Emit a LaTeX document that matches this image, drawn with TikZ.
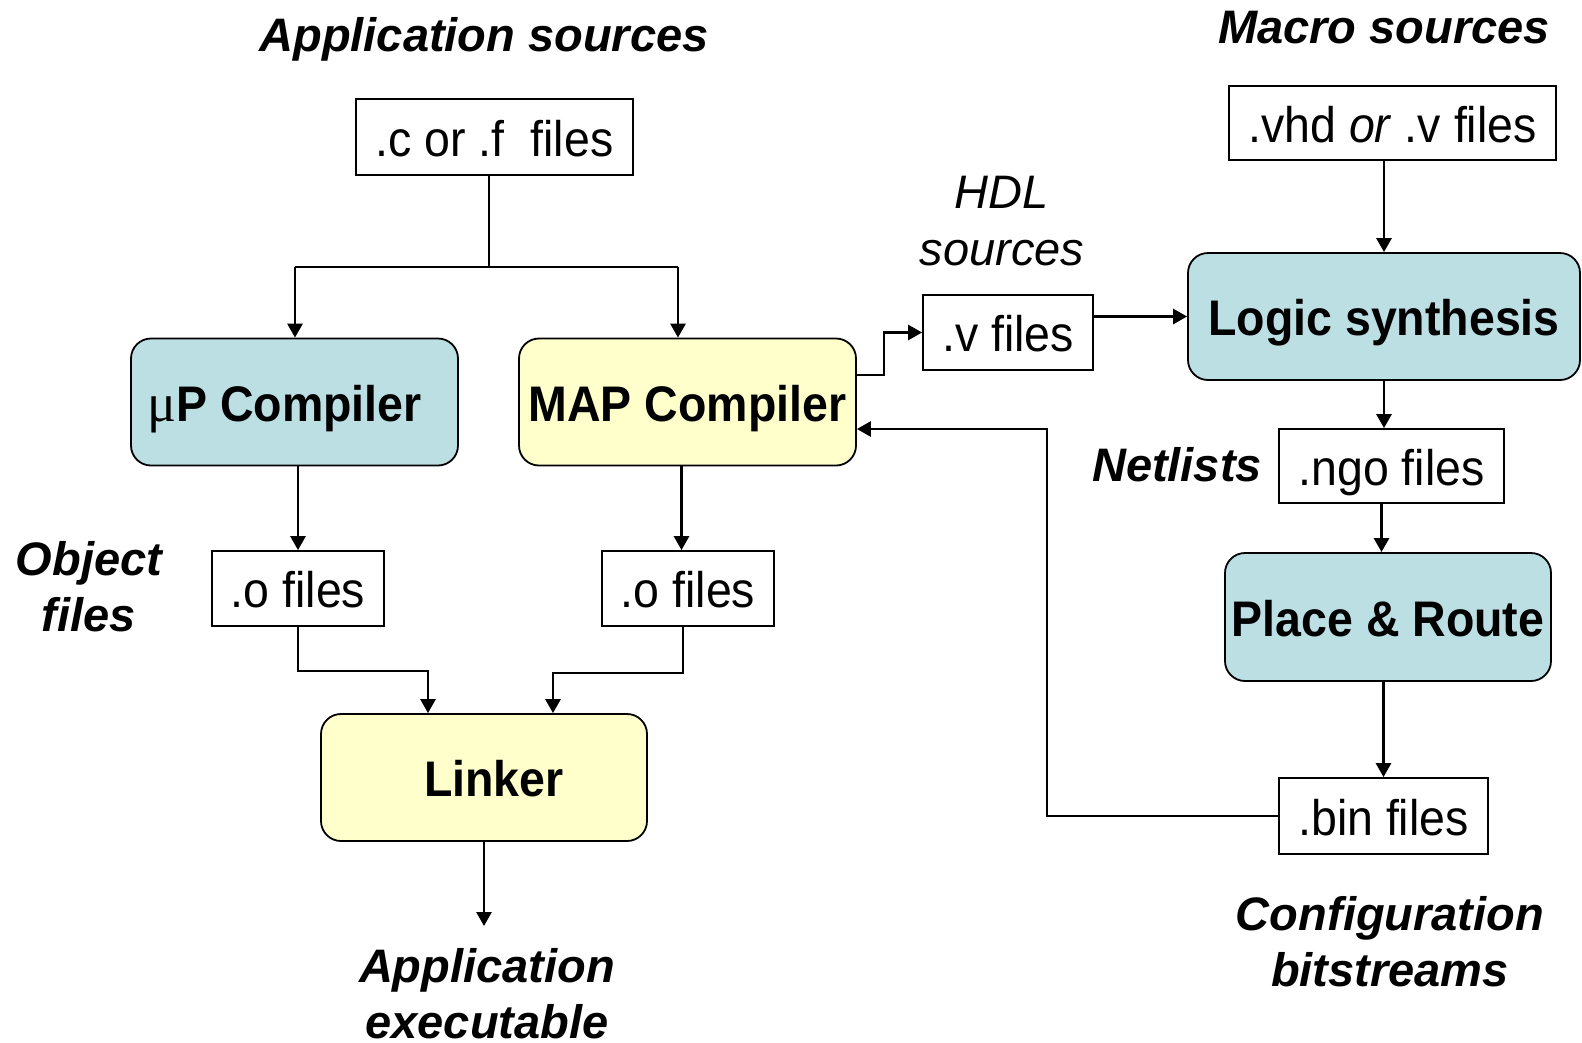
\documentclass[tikz,border=0pt]{standalone}
\usepackage{fontspec}
\setmainfont{Liberation Sans}
\newfontfamily\boxfont[FakeStretch=0.93]{Liberation Sans}
\newfontfamily\greekfont{Liberation Serif}
\usetikzlibrary{arrows.meta,calc}

\definecolor{procblue}{RGB}{188,223,228}
\definecolor{mapyellow}{RGB}{255,255,204}

\tikzset{
  filebox/.style={draw, line width=1.8pt, fill=white, minimum width=#1,
    minimum height=75pt, inner sep=0pt, text height=38pt, text depth=0pt,
    font=\boxfont\fontsize{50}{56}\selectfont},
  toolbox/.style={draw, line width=1.8pt, rounded corners=20pt,
    minimum width=#1, minimum height=127pt, inner sep=0pt,
    text height=38pt, text depth=0pt,
    font=\boxfont\bfseries\fontsize{50}{56}\selectfont},
  tag/.style={align=center, inner sep=0pt,
    font=\fontsize{47}{56}\selectfont\bfseries\itshape},
  plaintag/.style={align=center, inner sep=0pt,
    font=\fontsize{47}{57}\selectfont\itshape},
  wire/.style={line width=2.2pt},
  flow/.style={line width=2.8pt, -{Triangle[width=15pt,length=14pt]}},
}

\begin{document}
\begin{tikzpicture}[x=1pt,y=-1pt]
\useasboundingbox[fill=white] (0,0) rectangle (1582,1042);

% application side
\node[filebox=277pt, minimum height=76pt] (cf) at (494.5,137) {.c or .f\ \ files};
\node[toolbox=327pt, fill=procblue] (up) at (294.5,402)
  {{\greekfont\mdseries\fontsize{54}{56}\selectfont μ}P Compiler\kern20pt};
\node[toolbox=337pt, fill=mapyellow] (map) at (687.5,402) {MAP Compiler};
\node[filebox=172pt] (o1) at (298,588.5) {.o files};
\node[filebox=172pt] (o2) at (688,588.5) {.o files};
\node[toolbox=326pt, fill=mapyellow] (lk) at (484,777.5) {\hspace*{20pt}Linker};

% hardware side
\node[filebox=170pt] (vf) at (1008,332.5) {.v files};
\node[toolbox=392pt, fill=procblue] (ls) at (1384,316.5) {Logic synthesis};
\node[filebox=327pt, minimum height=74pt] (vhd) at (1392.5,123) {.vhd \textit{or} .v files};
\node[filebox=225pt, minimum height=74pt] (ngo) at (1391.5,466) {.ngo files};
\node[toolbox=326pt, minimum height=128pt, fill=procblue] (pr) at (1388,617) {Place \& Route};
\node[filebox=209pt, minimum height=76pt] (bin) at (1383.5,816) {.bin files};

% captions
\node[tag] (appsrc) at (484,39) {Application sources};
\node[tag] (macsrc) at (1384,28) {Macro sources};
\node[plaintag] (hdl) at (1002,221) {HDL\\sources};
\node[tag] (net) at (1177,465) {Netlists};
\node[tag] (objf) at (89,587) {Object\\files};
\node[tag] (cfg) at (1390,942) {Configuration\\bitstreams};
\node[tag] (appexe) at (487,994) {Application\\executable};

% sources fan out to both compilers
\coordinate (js) at (489,267);
\coordinate (jl) at (295,267);
\coordinate (jr) at (678,267);
\draw[wire] (cf.south -| js) -- (js);
\draw[wire] (jl) -- (jr);
\draw[flow] (jl) -- (jl |- up.north);
\draw[flow] (jr) -- (jr |- map.north);

% compilers to object files and linker
\draw[flow] (up.south -| o1.north) -- (o1.north);
\draw[flow] ([xshift=-6pt]map.south) -- ([xshift=-6pt]map.south |- o2.north);
\coordinate (la) at (428,671);
\coordinate (lb) at (553,673);
\draw[flow] (o1.south) |- (la) -- (la |- lk.north);
\draw[flow] ([xshift=-5pt]o2.south) |- (lb) -- (lb |- lk.north);
\coordinate (exe) at (484,926);
\draw[flow] (lk.south) -- (exe);

% MAP compiler to HDL flow
\coordinate (mv) at (884,375);
\draw[flow] (map.east |- mv) -- (mv) |- (vf.west);
\draw[flow] (vf.east |- ls.west) -- (ls.west);
\draw[flow] (vhd.south -| ls.north) -- (ls.north);
\draw[flow] (ls.south) -- (ls.south |- ngo.north);
\draw[flow] ([xshift=-10pt]ngo.south) -- ([xshift=-10pt]ngo.south |- pr.north);
\draw[flow] (pr.south -| bin.north) -- (bin.north);

% bitstreams fed back to the MAP compiler
\coordinate (fb) at (1047,429);
\draw[flow] (bin.west) -| (fb) -- (map.east |- fb);
\end{tikzpicture}
\end{document}
